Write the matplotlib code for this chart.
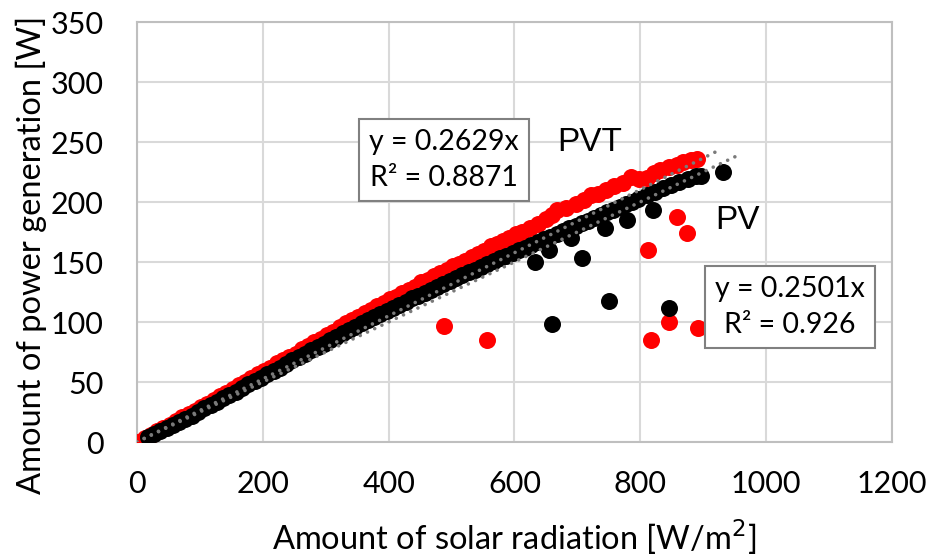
import numpy as np
import matplotlib.pyplot as plt

plt.rcParams['font.family'] = ['Lato', 'DejaVu Sans']

# PVT (red) measured points
pvt_x = [2, 12, 22, 32, 42, 52, 62, 72, 82, 92, 102, 112, 122, 132, 142, 152, 162, 172, 182, 192,
         202, 212, 222, 232, 242, 252, 262, 272, 282, 292, 302, 312, 322, 332, 342, 352, 362, 372,
         382, 392, 402, 412, 422, 432, 442, 452, 462, 472, 482, 492, 502, 512, 522, 532, 542, 552,
         562, 572, 582, 592, 602, 612, 625, 637, 650, 660, 668, 682, 697, 710, 721, 733, 745, 758,
         772, 785, 798, 811, 821, 831, 845, 858, 868, 880, 890,
         488, 557, 817, 846, 892, 812, 858, 874]
pvt_y = [0, 3, 6, 9, 12, 14.5, 17.5, 20.5, 23, 26, 29, 32, 35, 38.5, 41, 44, 47.5, 50, 53, 56.5,
         59, 62, 65.5, 68, 71, 73.5, 77.5, 80, 83, 85.5, 89.5, 92, 96, 99, 101.5, 104, 107.5, 110,
         113.5, 115.5, 119, 121, 124.5, 127, 129.5, 133, 135, 138.5, 140.5, 143, 146.5, 148.5, 151, 154, 156.5, 159,
         163.5, 165, 167.5, 170, 173, 175, 178.5, 182, 186, 189, 193, 195, 198, 202, 206, 207, 210, 213,
         216, 221, 219, 220, 224, 227, 229, 231, 233, 235, 236,
         97, 85, 85, 100, 95, 160, 187.5, 174]

# PV (black) measured points
pv_x = [17, 27, 37, 47, 57, 67, 77, 87, 97, 107, 117, 127, 137, 147, 157, 167, 177, 187, 197, 207,
        217, 227, 237, 247, 257, 267, 277, 287, 297, 307, 317, 327, 337, 347, 357, 367, 377, 387,
        397, 407, 417, 427, 437, 447, 457, 467, 477, 487, 497, 507, 517, 527, 537, 547, 557, 567,
        577, 587, 597, 607, 617, 627, 637, 647, 657, 667, 677, 687, 697, 707, 717, 727, 737, 747,
        757, 767, 777, 787, 797, 810, 823, 836, 849, 862, 875, 888, 897,
        932, 708, 820, 750, 846, 660, 633, 744, 779, 655, 690]
pv_y = [4, 6.5, 9, 11.5, 14, 17, 19.5, 22, 25, 28, 30.5, 33.5, 36.5, 39.5, 42, 45, 48, 51, 53.5, 56.5,
        59.5, 62, 65, 68, 70.5, 73.5, 76.5, 79, 82, 85, 87.5, 90.5, 93, 96, 99, 101.5, 104, 107,
        109.5, 112, 114.5, 117, 120, 122, 124.5, 127, 129.5, 132, 134.5, 137, 139, 141.5, 143.5, 146, 148.5, 150.5,
        153, 155, 157.5, 160, 162, 164.5, 166.5, 169, 171, 173.5, 175.5, 178, 180, 182.5, 184.5, 187, 189, 191.5,
        193.5, 196, 198, 200, 202.5, 205.5, 208.5, 211.5, 214, 216.5, 219, 221.5, 222,
        225, 153, 193, 117.5, 112, 98, 150, 178, 185, 160, 170]

# fitted slopes (through origin) and how far Excel drew them
pvt_slope, pvt_r2, pvt_end = 0.2629, 0.8871, 922
pv_slope, pv_r2, pv_end = 0.2501, 0.926, 955

x_ticks = [0, 200, 400, 600, 800, 1000, 1200]
y_ticks = [0, 50, 100, 150, 200, 250, 300, 350]

fig = plt.figure(figsize=(9.35, 5.59), dpi=100)
ax = fig.add_axes([0.1465, 0.2093, 0.8075, 0.7513])

ax.scatter(pvt_x, pvt_y, s=150, color='#ff0000', linewidths=0, zorder=3)
ax.scatter(pv_x, pv_y, s=150, color='#000000', linewidths=0, zorder=4)

# dotted linear trendlines (Excel style)
for slope, end in [(pvt_slope, pvt_end), (pv_slope, pv_end)]:
    xs = np.array([0, end])
    ax.plot(xs, slope * xs, color='#7a7a7a', lw=2.6, dashes=(0.01, 2.2),
            dash_capstyle='round', zorder=5)

ax.set_xlim(0, 1200)
ax.set_ylim(0, 350)
ax.set_xticks(x_ticks)
ax.set_yticks(y_ticks)
ax.tick_params(axis='x', length=0, labelsize=22, pad=20)
ax.tick_params(axis='y', length=0, labelsize=22, pad=24)
ax.grid(True, color='#d9d9d9', lw=1.5)
ax.set_axisbelow(True)
for side in ['top', 'right', 'left', 'bottom']:
    ax.spines[side].set_color('#bfbfbf')
    ax.spines[side].set_linewidth(1.5)

ax.set_xlabel('Amount of solar radiation [W/m$^2$]', fontsize=23.5)
ax.set_ylabel('Amount of power generation [W]', fontsize=23.5)
ax.xaxis.set_label_coords(0.5, -0.18)
ax.yaxis.set_label_coords(-0.119, 0.445)

box = dict(boxstyle='square,pad=0.35', facecolor='white', edgecolor='#808080', lw=1.5)
ax.text(488, 235, f'y = {pvt_slope}x\nR² = {pvt_r2}', fontsize=20.5, ha='center', va='center',
        linespacing=1.5, bbox=box, zorder=6)
ax.text(1038, 112.5, f'y = {pv_slope}x\nR² = {pv_r2}', fontsize=20.5, ha='center', va='center',
        linespacing=1.5, bbox=box, zorder=6)
ax.text(668, 250, 'PVT', fontsize=24, family=['Liberation Sans'], ha='left', va='center', zorder=6)
ax.text(955, 185, 'PV', fontsize=24, family=['Liberation Sans'], ha='center', va='center', zorder=6)

fig.savefig('out.png', dpi=100)
